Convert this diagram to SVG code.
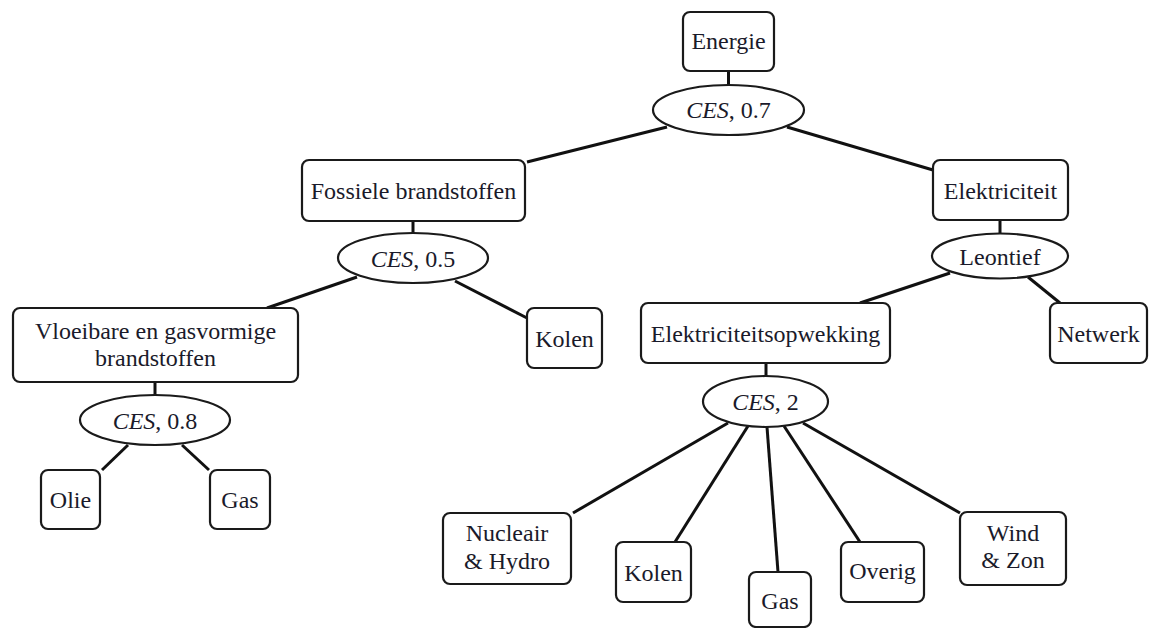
<svg xmlns="http://www.w3.org/2000/svg" width="1149" height="628" viewBox="0 0 1149 628">
<style>
.box{fill:#fff;stroke:#1a1a1a;stroke-width:2.2}
.ell{fill:#fff;stroke:#1a1a1a;stroke-width:2.2}
.edge{stroke:#111;stroke-width:3;fill:none;stroke-linecap:butt}
.t{font-size:24px;fill:#1a1a2a;text-anchor:middle}
.it{font-style:italic}
</style>
<rect width="1149" height="628" fill="#fff"/>
<g id="connectors">
<line class="edge" x1="728.5" y1="71" x2="728.5" y2="85"/>
<line class="edge" x1="667" y1="127" x2="527" y2="162"/>
<line class="edge" x1="787" y1="127" x2="933" y2="170"/>
<line class="edge" x1="413" y1="221" x2="413" y2="233"/>
<line class="edge" x1="357" y1="277" x2="267" y2="308"/>
<line class="edge" x1="455" y1="281" x2="527" y2="318"/>
<line class="edge" x1="155" y1="382" x2="155" y2="395"/>
<line class="edge" x1="128" y1="445" x2="102" y2="470"/>
<line class="edge" x1="182" y1="445" x2="209" y2="470"/>
<line class="edge" x1="1000" y1="220" x2="1000" y2="234"/>
<line class="edge" x1="950" y1="273" x2="860" y2="303"/>
<line class="edge" x1="1028" y1="277" x2="1060" y2="303"/>
<line class="edge" x1="766" y1="363" x2="766" y2="376"/>
<line class="edge" x1="728" y1="423" x2="573" y2="513"/>
<line class="edge" x1="748" y1="426" x2="675" y2="542"/>
<line class="edge" x1="767" y1="427" x2="778" y2="572"/>
<line class="edge" x1="784" y1="426" x2="860" y2="542"/>
<line class="edge" x1="803" y1="423" x2="960" y2="513"/>
</g>
<g font-family="Liberation Serif, Times New Roman, serif">
<g id="energie"><rect class="box" x="683" y="12" width="91" height="59" rx="7"/><text class="t" x="728.5" y="49">Energie</text></g>
<g id="ces07"><ellipse class="ell" cx="728.5" cy="110" rx="75.5" ry="25"/><text class="t" x="728.5" y="118"><tspan class="it">CES</tspan>, 0.7</text></g>
<g id="fossiel"><rect class="box" x="302" y="160" width="223" height="61" rx="7"/><text class="t" x="413.5" y="199">Fossiele brandstoffen</text></g>
<g id="elektriciteit"><rect class="box" x="933" y="160" width="135" height="60" rx="7"/><text class="t" x="1000.5" y="198.5">Elektriciteit</text></g>
<g id="ces05"><ellipse class="ell" cx="413" cy="258" rx="75" ry="25"/><text class="t" x="413" y="266.5"><tspan class="it">CES</tspan>, 0.5</text></g>
<g id="leontief"><ellipse class="ell" cx="1000" cy="256" rx="68" ry="22.5"/><text class="t" x="1000" y="264.5">Leontief</text></g>
<g id="vloeibaar"><rect class="box" x="13" y="308" width="285" height="74" rx="7"/><text class="t" x="155.5" y="338.5">Vloeibare en gasvormige</text><text class="t" x="155.5" y="365.5">brandstoffen</text></g>
<g id="kolen1"><rect class="box" x="527" y="308" width="75" height="60" rx="7"/><text class="t" x="564.5" y="346.5">Kolen</text></g>
<g id="opwekking"><rect class="box" x="641" y="303" width="249" height="60" rx="7"/><text class="t" x="765.5" y="341.5">Elektriciteitsopwekking</text></g>
<g id="netwerk"><rect class="box" x="1050" y="303" width="97" height="60" rx="7"/><text class="t" x="1098.5" y="341.5">Netwerk</text></g>
<g id="ces08"><ellipse class="ell" cx="155" cy="420" rx="75" ry="25"/><text class="t" x="155" y="428.5"><tspan class="it">CES</tspan>, 0.8</text></g>
<g id="olie"><rect class="box" x="41" y="470" width="59" height="59" rx="7"/><text class="t" x="70.5" y="507.5">Olie</text></g>
<g id="gas1"><rect class="box" x="210" y="470" width="60" height="59" rx="7"/><text class="t" x="240" y="507.5">Gas</text></g>
<g id="ces2"><ellipse class="ell" cx="765.5" cy="401.5" rx="62.5" ry="25.5"/><text class="t" x="765.5" y="409.5"><tspan class="it">CES</tspan>, 2</text></g>
<g id="nucleair"><rect class="box" x="443" y="513" width="128" height="71" rx="7"/><text class="t" x="507" y="540.5">Nucleair</text><text class="t" x="507" y="568.5">&amp; Hydro</text></g>
<g id="kolen2"><rect class="box" x="616" y="542" width="75" height="60" rx="7"/><text class="t" x="653.5" y="580.5">Kolen</text></g>
<g id="gas2"><rect class="box" x="749" y="572" width="62" height="55" rx="7"/><text class="t" x="780" y="608.5">Gas</text></g>
<g id="overig"><rect class="box" x="841" y="542" width="83" height="60" rx="7"/><text class="t" x="882.5" y="578.5">Overig</text></g>
<g id="windzon"><rect class="box" x="960" y="512" width="106" height="73" rx="7"/><text class="t" x="1013" y="540.5">Wind</text><text class="t" x="1013" y="567.5">&amp; Zon</text></g>
</g>
</svg>
